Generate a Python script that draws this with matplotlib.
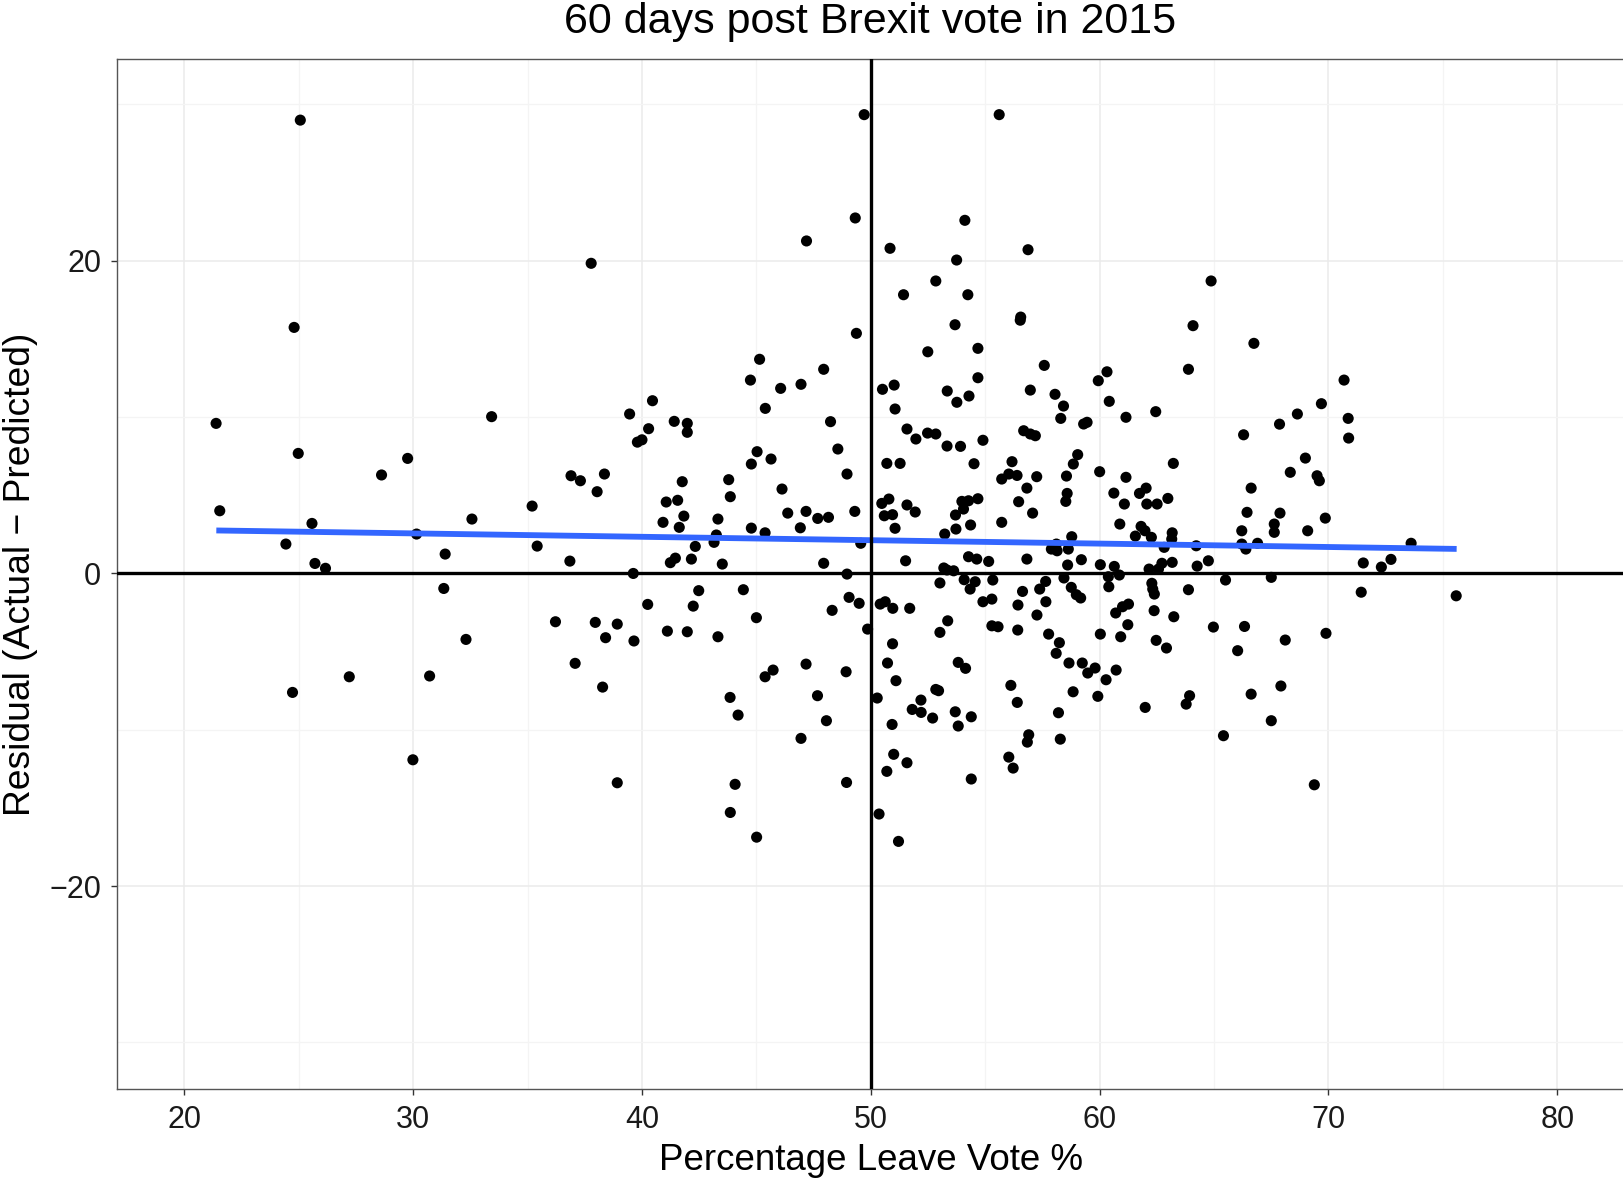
import matplotlib
matplotlib.use("Agg")
import matplotlib.pyplot as plt
import numpy as np

plt.rcParams['font.family'] = ['Liberation Sans', 'DejaVu Sans']

title = "60 days post Brexit vote in 2015"
x_label = "Percentage Leave Vote %"
y_label = "Residual (Actual \u2212 Predicted)"

x_ticks = [20, 30, 40, 50, 60, 70, 80]
y_ticks = [-20, 0, 20]
y_tick_labels = ["\u221220", "0", "20"]

# Percentage leave vote (x) of each area
leave_pct = [
    21.39, 21.55, 24.44, 24.73, 24.80, 24.98, 25.07, 25.58, 25.71, 26.17,
    27.21, 28.62, 29.76, 29.99, 30.15, 30.72, 31.34, 31.40, 32.31, 32.57,
    33.43, 35.20, 35.42, 36.22, 36.85, 36.90, 37.08, 37.31, 37.78, 37.96,
    38.04, 38.28, 38.36, 38.41, 38.92, 38.92, 39.46, 39.62, 39.65, 39.80,
    40.00,
    40.25, 40.29, 40.46, 40.92, 41.06, 41.11, 41.24, 41.41, 41.46, 41.56,
    41.63, 41.76, 41.83, 41.98, 41.98, 41.98, 42.16, 42.24, 42.33, 42.48,
    43.15, 43.25, 43.32, 43.32, 43.51, 43.79, 43.85, 43.86, 43.86, 44.07,
    44.20, 44.43, 44.74, 44.78, 44.78, 45.00, 45.01, 45.03, 45.14, 45.38,
    45.38, 45.39, 45.64, 45.73, 46.06, 46.12, 46.37, 46.92, 46.95, 46.95,
    47.17, 47.17, 47.19, 47.67, 47.68, 47.94, 47.94, 48.06, 48.15, 48.24,
    48.31, 48.56, 48.92, 48.94, 48.96, 48.96, 49.05, 49.30, 49.32, 49.37,
    49.49, 49.56, 49.71, 49.86,
    50.84, 56.87, 53.75, 55.61, 54.11, 52.84, 51.43, 54.24, 56.53, 56.55,
    53.68, 52.49, 54.68, 57.58, 54.68, 51.02, 50.51, 51.06, 53.34, 54.29,
    53.76, 56.97, 58.05, 58.42, 58.30, 59.30, 59.45, 59.94, 51.58, 51.97,
    52.48, 52.84, 53.33, 53.92, 54.90, 56.68, 56.97, 57.19, 50.70, 51.28,
    54.51, 56.17, 55.72, 56.03, 56.39, 57.25, 56.82, 59.04, 58.85, 58.55,
    58.58, 58.52, 56.46, 57.07, 55.72, 50.48, 50.79, 50.59, 50.95, 51.06,
    51.58, 51.94, 53.98, 54.27, 54.68, 54.05, 53.70, 54.36, 53.72, 53.23,
    51.52, 54.27, 54.63, 55.15, 56.82, 53.19, 53.33, 53.62, 57.89, 58.14,
    58.11, 58.63, 58.78, 59.20, 58.60, 58.44, 54.08, 54.56, 54.34, 53.02,
    55.33, 57.64, 57.38, 56.63, 58.76, 58.98, 59.17, 57.65, 56.43, 54.90,
    55.29, 50.41, 50.63, 50.96, 51.70, 57.26, 53.36, 53.02, 55.29, 55.56,
    56.42, 57.77, 58.24, 58.10, 58.66, 59.24, 59.48, 59.80, 50.95, 50.73,
    51.10, 53.82, 54.14, 56.12, 56.40, 58.84, 59.92, 50.28, 52.84, 52.96,
    52.19, 51.81, 52.20, 52.70, 53.69, 54.39, 53.82, 50.93, 58.20, 56.90,
    56.84, 58.28, 51.00, 51.58, 50.70, 56.03, 56.22, 54.39, 50.36, 51.21,
    60.00, 60.03, 64.87, 64.08, 66.74, 63.88, 60.32, 60.42, 61.15, 62.45,
    69.69, 68.64, 67.86, 66.29, 63.22, 61.15, 68.99, 68.33, 69.50, 69.60,
    66.62, 60.62, 61.74, 62.03, 62.98, 61.08, 62.06, 62.51, 66.44, 67.88,
    69.86, 60.88, 61.81, 61.98, 67.63, 67.63, 66.21, 69.09, 61.56, 62.26,
    63.17, 63.15, 66.90, 66.21, 66.39, 64.22, 62.82, 64.75, 64.26, 63.17,
    62.72, 60.64, 62.16, 62.57, 60.38, 60.86, 60.40, 65.50, 67.50, 62.28,
    62.32, 62.39, 63.88, 61.26, 61.00, 60.70, 62.38, 63.24, 61.23, 64.97,
    66.33, 60.92, 62.47, 62.92, 66.03, 68.11, 69.89, 60.72, 60.28, 61.99,
    63.93, 63.78, 66.62, 67.92, 67.50, 65.41, 69.38, 70.68, 70.86, 70.88,
    73.61, 71.52, 72.31, 72.73, 71.43, 75.58, 60.03,
]

# Residual (actual - predicted) of each area
residual = [
    9.60, 4.01, 1.88, -7.61, 15.74, 7.68, 29.00, 3.20, 0.64, 0.33,
    -6.61, 6.30, 7.36, -11.92, 2.52, -6.56, -0.96, 1.24, -4.22, 3.48,
    10.03, 4.31, 1.75, -3.09, 0.79, 6.25, -5.75, 5.93, 19.84, -3.13,
    5.23, -7.27, 6.36, -4.11, -3.24, -13.39, 10.20, 0.00, -4.32, 8.40,
    8.55,
    -1.98, 9.26, 11.05, 3.27, 4.57, -3.69, 0.69, 9.73, 0.98, 4.68,
    2.95, 5.87, 3.67, 9.60, 9.03, -3.73, 0.92, -2.09, 1.73, -1.10,
    1.99, 2.46, 3.48, -4.05, 0.60, 6.00, -7.93, 4.91, -15.29, -13.49,
    -9.06, -1.04, 12.37, 7.00, 2.90, -2.83, -16.87, 7.79, 13.70, 2.60,
    -6.61, 10.56, 7.32, -6.18, 11.84, 5.40, 3.86, 2.92, 12.10, -10.55,
    3.97, -5.80, 21.27, -7.82, 3.52, 13.06, 0.65, -9.42, 3.59, 9.71,
    -2.36, 7.96, -6.29, -13.37, 6.36, -0.04, -1.53, 3.97, 22.74, 15.36,
    -1.91, 1.93, 29.35, -3.56,
    20.80, 20.71, 20.05, 29.35, 22.59, 18.71, 17.83, 17.83, 16.20, 16.40,
    15.91, 14.18, 14.40, 13.31, 12.52, 12.05, 11.78, 10.52, 11.67, 11.35,
    10.95, 11.73, 11.46, 10.71, 9.92, 9.56, 9.67, 12.33, 9.24, 8.60,
    8.98, 8.92, 8.15, 8.13, 8.52, 9.13, 8.92, 8.81, 7.04, 7.04,
    7.02, 7.15, 6.04, 6.36, 6.27, 6.19, 5.46, 7.60, 7.00, 6.23,
    5.12, 4.61, 4.59, 3.86, 3.27, 4.48, 4.76, 3.69, 3.76, 2.89,
    4.38, 3.93, 4.61, 4.65, 4.78, 4.12, 3.74, 3.10, 2.84, 2.52,
    0.81, 1.07, 0.92, 0.77, 0.92, 0.35, 0.22, 0.17, 1.56, 1.45,
    1.88, 1.56, 2.35, 0.88, 0.54, -0.29, -0.40, -0.53, -1.00, -0.61,
    -0.42, -0.51, -1.00, -1.15, -0.89, -1.36, -1.57, -1.81, -2.02, -1.81,
    -1.64, -1.96, -1.81, -2.23, -2.23, -2.66, -3.03, -3.77, -3.35, -3.41,
    -3.62, -3.88, -4.43, -5.11, -5.73, -5.73, -6.37, -6.05, -4.50, -5.73,
    -6.86, -5.69, -6.07, -7.16, -8.25, -7.57, -7.86, -7.97, -7.42, -7.50,
    -8.10, -8.70, -8.89, -9.25, -8.85, -9.17, -9.76, -9.66, -8.91, -10.32,
    -10.79, -10.60, -11.57, -12.11, -12.66, -11.75, -12.45, -13.15, -15.39, -17.14,
    6.51, 0.56, 18.71, 15.85, 14.72, 13.06, 12.90, 11.01, 9.99, 10.35,
    10.86, 10.20, 9.55, 8.87, 7.04, 6.15, 7.38, 6.47, 6.25, 5.93,
    5.46, 5.14, 5.12, 5.46, 4.80, 4.44, 4.44, 4.44, 3.91, 3.86,
    3.54, 3.16, 3.01, 2.73, 3.16, 2.63, 2.73, 2.73, 2.39, 2.31,
    2.60, 2.20, 1.93, 1.88, 1.56, 1.77, 1.67, 0.81, 0.47, 0.71,
    0.65, 0.45, 0.28, 0.28, -0.21, -0.10, -0.85, -0.42, -0.25, -0.63,
    -1.00, -1.32, -1.04, -1.96, -2.13, -2.53, -2.38, -2.77, -3.28, -3.43,
    -3.39, -4.05, -4.28, -4.77, -4.94, -4.26, -3.83, -6.18, -6.80, -8.57,
    -7.82, -8.36, -7.72, -7.20, -9.42, -10.38, -13.52, 12.37, 9.92, 8.66,
    1.93, 0.67, 0.41, 0.90, -1.20, -1.43, -3.88,
]

# Linear fit line (ends)
fit_x = [21.4, 75.6]
fit_y = [2.75, 1.57]

W, H = 1623, 1178
fig = plt.figure(figsize=(W / 100, H / 100), dpi=100)
ax = fig.add_axes([117 / W, 1 - 1089 / H, 1 - 117 / W + 0.001, (1089 - 59) / H])

ax.set_xlim(17.06, 82.94)
ax.set_ylim(-32.98, 32.91)

ax.set_xticks(x_ticks)
ax.set_yticks(y_ticks)
ax.set_yticklabels(y_tick_labels)
ax.set_xticks([25, 35, 45, 55, 65, 75], minor=True)
ax.set_yticks([-30, -10, 10, 30], minor=True)
ax.grid(True, which='major', color='#EBEBEB', linewidth=1.1)
ax.grid(True, which='minor', color='#F4F4F4', linewidth=0.9)
ax.set_axisbelow(True)
ax.tick_params(axis='both', which='major', length=4.5, width=1.0, color='#333333',
               labelsize=22, labelcolor='#1a1a1a', pad=7)
ax.tick_params(axis='both', which='minor', length=0)

for side in ['left', 'top', 'bottom']:
    ax.spines[side].set_color('#555555')
    ax.spines[side].set_linewidth(1.0)
ax.spines['right'].set_visible(False)

ax.scatter(leave_pct, residual, s=64, color='black', edgecolors='none', zorder=2)
ax.plot(fit_x, fit_y, color='#3366FF', linewidth=4.2, solid_capstyle='butt', zorder=3)
ax.axhline(0, color='black', linewidth=2.4, zorder=4)
ax.axvline(50, color='black', linewidth=2.4, zorder=4)

fig.text(870 / W, 1 - 22 / H, title, ha='center', va='center', fontsize=31, color='black')

xl = ax.set_xlabel(x_label, fontsize=26.5)
xl.set_va('center')
ax.xaxis.set_label_coords(0.5, (1089 - 1160) / 1030)
yl = ax.set_ylabel(y_label, fontsize=26.8)
yl.set_va('center')
yl.set_ha('center')
ax.yaxis.set_label_coords((21 - 117) / 1506, 0.5)

fig.savefig("out.png", dpi=100)
